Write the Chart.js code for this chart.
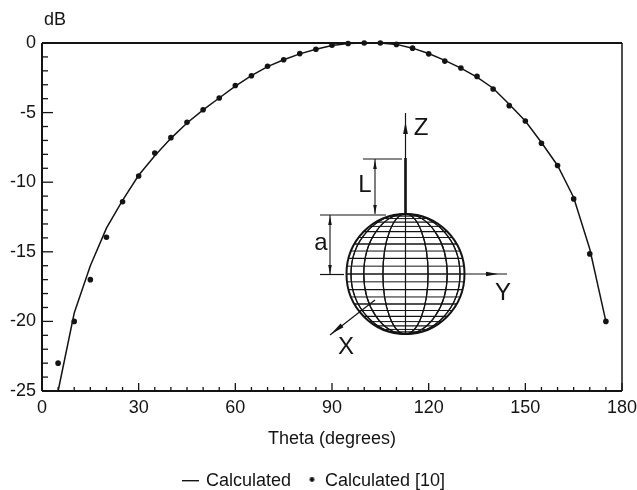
<!DOCTYPE html>
<html>
<head>
<meta charset="utf-8">
<style>
  html, body { margin: 0; padding: 0; background: #fff; }
  #wrap { width: 637px; height: 490px; }
</style>
<script src="https://cdn.jsdelivr.net/npm/chart.js@4"></script>
</head>
<body>
<div id="wrap"><canvas id="grafico" width="637" height="490"></canvas></div>
<script>
// values
const theta = [5, 10, 15, 20, 25, 30, 35, 40, 45, 50, 55, 60, 65, 70, 75, 80, 85, 90,
  95, 100, 105, 110, 115, 120, 125, 130, 135, 140, 145, 150, 155, 160, 165, 170, 175];
const calculated = [-25, -19.4, -16, -13.3, -11.3, -9.5, -8.1, -6.85, -5.75, -4.8, -3.95, -3.1,
  -2.35, -1.7, -1.2, -0.78, -0.45, -0.18, -0.04, 0, 0, -0.1, -0.37, -0.75, -1.25, -1.8,
  -2.45, -3.25, -4.4, -5.6, -7.15, -8.8, -11.1, -14.8, -20];
const calculatedRef = [-23, -20, -17, -13.95, -11.4, -9.55, -7.9, -6.8, -5.7, -4.8, -3.95, -3.05,
  -2.35, -1.67, -1.2, -0.76, -0.45, -0.16, -0.04, 0, 0, -0.1, -0.37, -0.78, -1.3, -1.8,
  -2.4, -3.3, -4.5, -5.6, -7.2, -8.8, -11.2, -15.15, -20];
const xLabels = [0, 30, 60, 90, 120, 150, 180];
const yLabels = [0, -5, -10, -15, -20, -25];

const INK = "#141414";
const FONT = "Liberation Sans";

// legend markers
function marcador(tipo) {
  const c = document.createElement("canvas");
  c.width = 17; c.height = 8;
  const g = c.getContext("2d");
  g.fillStyle = INK;
  if (tipo === "linha") {
    g.fillRect(0, 3, 17, 1.4);
  } else {
    g.beginPath();
    g.arc(10.5, 2.5, 2.4, 0, Math.PI * 2);
    g.fill();
  }
  return c;
}

function texto(ctx, t, x, y) {
  ctx.font = "24px " + FONT;
  ctx.fillStyle = INK;
  ctx.textAlign = "center";
  ctx.textBaseline = "middle";
  ctx.fillText(t, x, y);
}

function linha(ctx, x1, y1, x2, y2, w) {
  ctx.lineWidth = w || 1;
  ctx.beginPath();
  ctx.moveTo(x1, y1);
  ctx.lineTo(x2, y2);
  ctx.stroke();
}

// thin arrow head, pointing along (dx, dy)
function ponta(ctx, x, y, dx, dy, len, w) {
  ctx.fillStyle = INK;
  ctx.beginPath();
  ctx.moveTo(x, y);
  ctx.lineTo(x - dx * len - dy * w, y - dy * len + dx * w);
  ctx.lineTo(x - dx * len + dy * w, y - dy * len - dx * w);
  ctx.closePath();
  ctx.fill();
}

// frame and inward ticks
const eixos = {
  id: "eixos",
  afterDatasetsDraw(chart) {
    const { ctx, chartArea: a, scales } = chart;
    ctx.save();
    ctx.strokeStyle = INK;
    linha(ctx, a.left, a.top, a.right, a.top, 2);
    linha(ctx, a.left, a.bottom, a.right, a.bottom, 2);
    linha(ctx, a.left, a.top, a.left, a.bottom, 2);
    linha(ctx, a.right, a.top, a.right, a.bottom, 1.5);
    scales.x.ticks.forEach(t => {
      const x = scales.x.getPixelForValue(t.value);
      linha(ctx, x, a.bottom, x, a.bottom - (xLabels.includes(t.value) ? 8 : 4), 1.3);
    });
    scales.y.ticks.forEach(t => {
      const y = scales.y.getPixelForValue(t.value);
      linha(ctx, a.left, y, a.left + (yLabels.includes(t.value) ? 11 : 6), y, 1.3);
    });
    ctx.font = "18px " + FONT;
    ctx.fillStyle = INK;
    ctx.textAlign = "left";
    ctx.textBaseline = "middle";
    ctx.fillText("dB", 44, 20);
    ctx.restore();
  }
};

// sphere sketch inside the plot
const esfera = {
  id: "esfera",
  afterDatasetsDraw(chart) {
    const ctx = chart.ctx;
    const cx = 405.5, cy = 274, rx = 59, ry = 60;
    ctx.save();
    ctx.strokeStyle = INK;
    ctx.fillStyle = "#fff";
    ctx.beginPath();
    ctx.ellipse(cx, cy, rx, ry, 0, 0, Math.PI * 2);
    ctx.fill();
    // parallels
    for (let k = -11; k <= 11; k++) {
      const s = Math.sin(k * 7.5 * Math.PI / 180);
      const hw = rx * Math.sqrt(1 - s * s);
      linha(ctx, cx - hw, cy + ry * s, cx + hw, cy + ry * s, k % 2 === 0 ? 1.3 : 1);
    }
    // meridians
    for (let k = -3; k <= 3; k++) {
      const w = Math.abs(rx * Math.sin(k * 22.5 * Math.PI / 180));
      ctx.lineWidth = 1.2;
      ctx.beginPath();
      ctx.ellipse(cx, cy, Math.max(w, 0.01), ry, 0, 0, Math.PI * 2);
      ctx.stroke();
    }
    ctx.lineWidth = 2;
    ctx.beginPath();
    ctx.ellipse(cx, cy, rx, ry, 0, 0, Math.PI * 2);
    ctx.stroke();

    // Z axis and wire
    linha(ctx, cx, 113, cx, 214, 1.2);
    linha(ctx, cx, 158, cx, 214, 2.6);
    ponta(ctx, cx, 122, 0, -1, 12, 2.4);
    // L dimension
    linha(ctx, 363, 159, 402, 159, 1.2);
    linha(ctx, 375, 159, 375, 214, 1.1);
    ponta(ctx, 375, 160, 0, -1, 9, 1.8);
    ponta(ctx, 375, 214, 0, 1, 9, 1.8);
    // a dimension
    linha(ctx, 320, 215, 386, 215, 1.2);
    linha(ctx, 320, 274.5, 344, 274.5, 1.2);
    linha(ctx, 330, 215, 330, 274, 1.1);
    ponta(ctx, 330, 216, 0, -1, 9, 1.8);
    ponta(ctx, 330, 274, 0, 1, 9, 1.8);
    // Y axis
    linha(ctx, 465, 274, 507, 274, 1.2);
    ponta(ctx, 498, 274, 1, 0, 12, 2.2);
    // X axis
    linha(ctx, 375, 300, 330, 335, 1.2);
    ponta(ctx, 331, 334, -0.79, 0.61, 14, 2.4);

    texto(ctx, "Z", 421, 128);
    texto(ctx, "L", 365, 185);
    texto(ctx, "a", 321, 243);
    texto(ctx, "Y", 503, 293);
    texto(ctx, "X", 346, 347);
    ctx.restore();
  }
};

const marcadores = [marcador("linha"), marcador("ponto")];

new Chart(document.getElementById("grafico").getContext("2d"), {
  type: "line",
  data: {
    datasets: [{
      label: "Calculated",
      data: theta.map((t, i) => ({ x: t, y: calculated[i] })),
      borderColor: INK,
      borderWidth: 1.5,
      pointRadius: 0,
      tension: 0,
      clip: false
    }, {
      label: "Calculated [10]",
      data: theta.map((t, i) => ({ x: t, y: calculatedRef[i] })),
      showLine: false,
      pointRadius: 2.8,
      pointBackgroundColor: INK,
      pointBorderWidth: 0,
      clip: false
    }]
  },
  plugins: [eixos, esfera],
  options: {
    responsive: false,
    animation: false,
    layout: { padding: { top: 43, right: 15, bottom: -10, left: 8 } },
    plugins: {
      tooltip: { enabled: false },
      legend: {
        position: "bottom",
        labels: {
          usePointStyle: true,
          pointStyleWidth: 12,
          boxHeight: 8,
          padding: 13,
          color: INK,
          font: { family: FONT, size: 18 },
          generateLabels(chart) {
            return chart.data.datasets.map((d, i) => ({
              text: d.label,
              datasetIndex: i,
              fontColor: INK,
              pointStyle: marcadores[i],
              lineWidth: 0,
              strokeStyle: "transparent",
              fillStyle: INK
            }));
          }
        }
      }
    },
    scales: {
      x: {
        type: "linear",
        min: 0,
        max: 180,
        afterFit(s) { s.height = 68; s.paddingRight = 0; s.paddingLeft = 0; },
        grid: { display: false, drawTicks: false },
        border: { display: false },
        title: { display: true, text: "Theta (degrees)", color: INK, font: { family: FONT, size: 18 }, padding: { top: 12, bottom: 9 } },
        ticks: {
          stepSize: 5,
          autoSkip: false,
          maxRotation: 0,
          padding: 6,
          color: INK,
          font: { family: FONT, size: 18 },
          callback: v => xLabels.includes(v) ? String(v) : ""
        }
      },
      y: {
        min: -25,
        max: 0,
        afterFit(s) { s.width = 34; s.paddingTop = 0; s.paddingBottom = 0; },
        grid: { display: false, drawTicks: false },
        border: { display: false },
        ticks: {
          stepSize: 1,
          autoSkip: false,
          padding: 6,
          color: INK,
          font: { family: FONT, size: 18 },
          callback: v => yLabels.includes(v) ? String(v) : ""
        }
      }
    }
  }
});
</script>
</body>
</html>
